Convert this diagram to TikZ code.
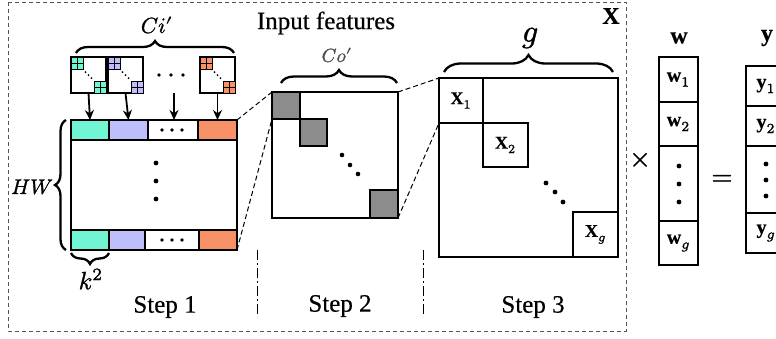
\documentclass[tikz,border=0pt]{standalone}
\usepackage{fontspec}
\usepackage{unicode-math}
\setmainfont{Liberation Serif}[FakeBold=0.4]
\setmathfont{Latin Modern Math}[FakeBold=1.2]
\usetikzlibrary{arrows.meta,decorations.pathreplacing}

\definecolor{kcyan}{RGB}{112,246,210}
\definecolor{kviolet}{RGB}{190,190,250}
\definecolor{korange}{RGB}{248,144,104}
\definecolor{blockgray}{RGB}{140,140,140}
\definecolor{framegray}{RGB}{85,85,85}

\tikzset{
  box/.style={draw, line width=1.6pt, inner sep=0pt, outer sep=0pt, anchor=north west},
  cellbox/.style={box, line width=1.8pt},
  curly/.style={decorate, decoration={brace, amplitude=#1}, line width=2.3pt},
  downarrow/.style={-{Stealth[length=10pt,width=9pt]}, line width=1.8pt},
  linkline/.style={dashed, dash pattern=on 5pt off 3pt, line width=1pt},
  separator/.style={line width=0.9pt, dash pattern=on 10pt off 3pt on 2pt off 3pt},
  steptext/.style={font=\fontsize{25}{29}\selectfont},
  % math labels are set at 10pt and enlarged
  mathlabel/.style={font=\fontsize{10}{12}\selectfont, scale=#1},
  mathlabel/.default=2.2,
  celllabel/.style={font=\fontsize{10}{12}\selectfont, scale=1.8},
  vectorlabel/.style={font=\fontsize{10}{12}\selectfont, scale=2.0},
}

% 2x2 grid of a kernel, top-left corner at (#1,#2), 12pt wide
\newcommand\kernelgrid[3]{%
  \filldraw[fill=#3, line width=0.8pt] (#1,#2) rectangle ++(12,12);
  \draw[line width=0.8pt] (#1+6,#2) -- ++(0,12) (#1,#2+6) -- ++(12,0);
}
% one kernel matrix: name, x, y, colour
\newcommand\kernelbox[4]{%
  \node[box, minimum width=35pt, minimum height=36pt] (#1) at (#2,#3) {};
  \kernelgrid{#2}{#3}{#4}
  \kernelgrid{#2+23}{#3+24}{#4}
  \fill (#2+14.5,#3+15) circle (1pt) (#2+17.5,#3+18) circle (1pt) (#2+20.5,#3+21) circle (1pt);
}

\begin{document}
\begin{tikzpicture}[x=1pt, y=-1pt]
\useasboundingbox (0,0) rectangle (776,338);

% outer frame of the input features
\draw[framegray, line width=0.9pt, dash pattern=on 4pt off 3pt] (8,2) rectangle (626,331);
\node[mathlabel=2.4] (Xlabel) at (611,16) {$\mathbf{X}$};
\node[steptext] (inputlabel) at (326,23) {Input features};

% ---------- Step 1 ----------
\kernelbox{k1}{71}{57}{kcyan}
\kernelbox{k2}{108}{57}{kviolet}
\kernelbox{k4}{200}{57}{korange}
\fill (159,75) circle (1.9pt) (171,75) circle (1.9pt) (183,75) circle (1.9pt);
\coordinate (k3) at (174,93);

\node[box, minimum width=166pt, minimum height=130pt] (s1) at (71,120) {};
\node[cellbox, fill=kcyan,   minimum width=38pt, minimum height=20pt] (c1) at (71,120) {};
\node[cellbox, fill=kviolet, minimum width=39pt, minimum height=20pt] (c2) at (109,120) {};
\node[cellbox, fill=white,   minimum width=50pt, minimum height=20pt] (c3) at (148,120) {};
\node[cellbox, fill=korange, minimum width=39pt, minimum height=20pt] (c4) at (198,120) {};
\node[cellbox, fill=kcyan,   minimum width=38pt, minimum height=20pt] (b1) at (71,230) {};
\node[cellbox, fill=kviolet, minimum width=36pt, minimum height=20pt] (b2) at (109,230) {};
\node[cellbox, fill=white,   minimum width=54pt, minimum height=20pt] (b3) at (145,230) {};
\node[cellbox, fill=korange, minimum width=38pt, minimum height=20pt] (b4) at (199,230) {};
\fill (162,130) circle (1.8pt) (172,130) circle (1.8pt) (182,130) circle (1.8pt);
\fill (162,240) circle (1.8pt) (172,240) circle (1.8pt) (182,240) circle (1.8pt);
\fill (156,163) circle (2.4pt) (156,181) circle (2.4pt) (156,199) circle (2.4pt);

\draw[downarrow] (k1.south) -- (c1.north);
\draw[downarrow] (k2.south) -- (c2.north);
\draw[downarrow] (k3) -- (c3.north -| k3);
\draw[downarrow] (k4.south) -- (c4.north -| k4.south);

\draw[curly=12pt] (76,53) -- (234,53);
\node[mathlabel] (cilabel) at (157,25) {$Ci'$};
\draw[curly=11pt] (66,250) -- (66,120);
\node[mathlabel=2.1] (hwlabel) at (32,187) {$HW$};
\draw[curly=11pt] (109,253) -- (71,253);
\node[mathlabel=2.5] (klabel) at (91,279) {$k^2$};
\node[steptext] (step1) at (165,307) {Step 1};

% ---------- Step 2 ----------
\node[box, minimum width=126pt, minimum height=126pt] (s2) at (272,92) {};
\node[box, fill=blockgray, minimum width=28pt, minimum height=27pt] (g1) at (272,92) {};
\node[box, fill=blockgray, minimum width=27pt, minimum height=27pt] (g2) at (300,119) {};
\node[box, fill=blockgray, minimum width=28pt, minimum height=28pt] (g3) at (370,190) {};
\fill (342,155) circle (2.3pt) (350,165) circle (2.3pt) (358,174) circle (2.3pt);
\draw[curly=13pt] (281,83) -- (397,83);
\node[mathlabel=1.9, text=black!70] (colabel) at (337,55) {$Co'$};
\node[steptext] (step2) at (340,306) {Step 2};

\draw[linkline] (c4.north east) -- (g1.north west);
\draw[linkline] (b4.south east) -- (g1.south west);

% ---------- Step 3 ----------
\node[box, minimum width=179pt, minimum height=179pt] (s3) at (439,78) {};
\node[box, minimum width=44pt, minimum height=45pt] (x1) at (439,78) {};
\node[box, minimum width=45pt, minimum height=44pt] (x2) at (483,123) {};
\node[box, minimum width=45pt, minimum height=45pt] (xg) at (573,212) {};
\node[celllabel] at (x1.center) {$\mathbf{X}_1$};
\node[celllabel] at (x2.center) {$\mathbf{X}_2$};
\node[celllabel] at (xg.center) {$\mathbf{X}_g$};
\fill (546,183) circle (2.4pt) (555,192) circle (2.4pt) (563,202) circle (2.4pt);
\draw[curly=17pt] (444,72) -- (613,72);
\node[mathlabel=3.2] (glabel) at (530,38) {$g$};
\node[steptext] (step3) at (533,307) {Step 3};

\draw[linkline] (s2.north east) -- (x1.north west);
\draw[linkline] (s2.south east) -- (x1.south west);

\draw[separator] (257,250) -- (257,317);
\draw[separator] (423,250) -- (423,317);

% ---------- product with the weights ----------
\node[mathlabel=2.8] (times) at (640,160) {$\times$};
\node[mathlabel=2.4] (wlabel) at (679,38) {$\mathbf{w}$};
\node[box, minimum width=39pt, minimum height=45pt] (w1) at (659,57) {};
\node[box, minimum width=39pt, minimum height=44pt] (w2) at (659,102) {};
\node[box, minimum width=39pt, minimum height=75pt] (wd) at (659,146) {};
\node[box, minimum width=39pt, minimum height=44pt] (wg) at (659,221) {};
\node[vectorlabel] at (w1.center) {$\mathbf{w}_1$};
\node[vectorlabel] at (w2.center) {$\mathbf{w}_2$};
\node[vectorlabel] at (wg.center) {$\mathbf{w}_g$};
\fill (679,166) circle (2.4pt) (679,184) circle (2.4pt) (679,202) circle (2.4pt);

\node[mathlabel=2.7] (equals) at (722,180) {$=$};
\node[mathlabel=2.4] (ylabel) at (767,38) {$\mathbf{y}$};
\node[box, minimum width=40pt, minimum height=40pt] (y1) at (746,66) {};
\node[box, minimum width=40pt, minimum height=40pt] (y2) at (746,106) {};
\node[box, minimum width=40pt, minimum height=67pt] (yd) at (746,146) {};
\node[box, minimum width=40pt, minimum height=40pt] (yg) at (746,213) {};
\node[vectorlabel] at (y1.center) {$\mathbf{y}_1$};
\node[vectorlabel] at (y2.center) {$\mathbf{y}_2$};
\node[vectorlabel] at (yg.center) {$\mathbf{y}_g$};
\fill (766,164) circle (2.4pt) (766,180) circle (2.4pt) (766,196) circle (2.4pt);
\end{tikzpicture}
\end{document}
